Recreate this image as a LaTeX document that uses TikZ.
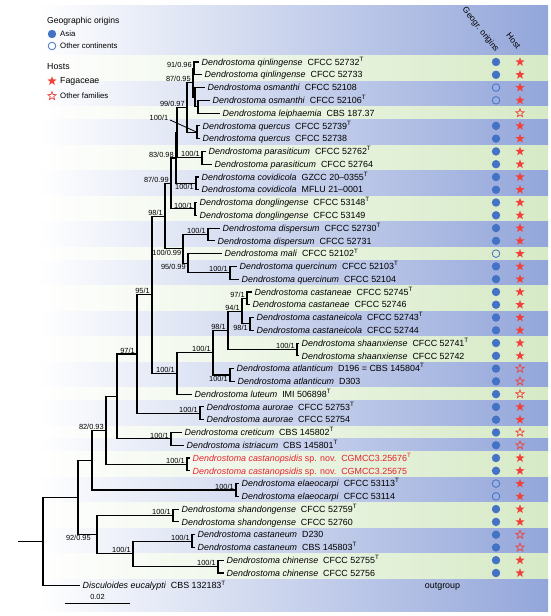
\documentclass[tikz,border=0pt]{standalone}
\usepackage{fontspec}
\setmainfont{Liberation Sans}
\usetikzlibrary{shapes.geometric}

\definecolor{BandBlue}{HTML}{93A6DA}
\definecolor{BandGreen}{HTML}{D6EAC6}
\definecolor{GeoBlue}{HTML}{4472C4}
\definecolor{HostRed}{HTML}{F0413A}
\definecolor{NovRed}{HTML}{E8202A}

\begin{document}
\begin{tikzpicture}[x=1pt, y=-1pt,
  branch/.style={line width=1.1pt},
  taxon/.style={anchor=base west, inner sep=0pt, xshift=2.5pt, yshift=-3.2pt, font=\fontsize{8.9}{10}\selectfont},
  supp/.style={anchor=south east, inner sep=0.6pt, xshift=-1.5pt, font=\fontsize{7.4}{8}\selectfont},
  suppb/.style={anchor=north east, inner sep=0.6pt, xshift=-1.5pt, font=\fontsize{7.4}{8}\selectfont},
  asia/.style={circle, fill=GeoBlue, inner sep=0pt, minimum size=8.4pt},
  othercont/.style={circle, draw=GeoBlue, line width=0.8pt, inner sep=0pt, minimum size=7.6pt},
  faga/.style={star, star points=5, star point ratio=2.4, fill=HostRed, inner sep=0pt, minimum size=9.5pt},
  otherfam/.style={star, star points=5, star point ratio=2.4, draw=HostRed, line width=0.7pt, inner sep=0pt, minimum size=8.8pt},
  legtxt/.style={anchor=west, inner sep=0pt, font=\fontsize{7.8}{9}\selectfont}]

 \useasboundingbox (0,0) rectangle (550,616);

 %%%%%%%%%% Background bands %%%%%%%%%%
 \shade [left color=white, right color=BandBlue] (38,5) rectangle (548,55.61) ;
 \foreach \ya/\yb/\col in {55.61/81.17/BandGreen, 81.17/106.72/BandBlue, 106.72/119.49/BandGreen,
   119.49/145.04/BandBlue, 145.04/170.59/BandGreen, 170.59/196.14/BandBlue, 196.14/221.69/BandGreen,
   221.69/247.24/BandBlue, 247.24/260.02/BandGreen, 260.02/285.57/BandBlue, 285.57/311.12/BandGreen,
   311.12/336.67/BandBlue, 336.67/362.22/BandGreen, 362.22/387.77/BandBlue, 387.77/400.54/BandGreen,
   400.54/426.09/BandBlue, 426.09/438.87/BandGreen, 438.87/451.64/BandBlue, 451.64/477.19/BandGreen,
   477.19/502.74/BandBlue, 502.74/528.29/BandGreen, 528.29/553.84/BandBlue, 553.84/579.39/BandGreen,
   579.39/611/BandBlue}
 {
   \shade [left color=white, right color=\col] (38,\ya) rectangle (548,\yb) ;
 }

 %%%%%%%%%% Internal nodes %%%%%%%%%%
 \coordinate (stem) at (18,541.61);
 \coordinate (root) at (43,541.61);
 \coordinate (nA) at (78,497.44);
 \coordinate (nB) at (92,460.20);
 \coordinate (n8293) at (106,430.44);
 \coordinate (nD) at (117,396.46);
 \coordinate (n971) at (137,354.04);
 \coordinate (n951) at (152,294.77);
 \coordinate (n981) at (165,216.15);
 \coordinate (n8799) at (171,183.46);
 \coordinate (n8398) at (176,158.01);
 \coordinate (nX) at (177,132.66);
 \coordinate (n9997) at (187,107.51);
 \coordinate (n8795) at (193,82.76);
 \coordinate (qin) at (194,68.39);
 \coordinate (osm) at (195,97.13);
 \coordinate (ol) at (198,106.72);
 \coordinate (quer) at (197,132.27);
 \coordinate (para) at (202,157.82);
 \coordinate (cov) at (196,183.37);
 \coordinate (dong) at (195,208.92);
 \coordinate (n10099) at (183,248.84);
 \coordinate (disp) at (208,234.47);
 \coordinate (n9599) at (188,263.21);
 \coordinate (quin) at (230,272.79);
 \coordinate (n1001b) at (177,373.39);
 \coordinate (n1001a) at (213,352.64);
 \coordinate (n981b) at (228,330.28);
 \coordinate (n941) at (242,311.12);
 \coordinate (cast) at (247,298.34);
 \coordinate (casti) at (250,323.89);
 \coordinate (shaan) at (297,349.44);
 \coordinate (atl) at (230,374.99);
 \coordinate (aur) at (200,413.32);
 \coordinate (cret) at (171,438.87);
 \coordinate (csp) at (187,464.42);
 \coordinate (ela) at (236,489.97);
 \coordinate (n9295) at (97,534.68);
 \coordinate (shan) at (173,515.52);
 \coordinate (n1001c) at (133,553.84);
 \coordinate (cstm) at (192,541.07);
 \coordinate (chin) at (218,566.62);

 %%%%%%%%%% Tips %%%%%%%%%%
 \coordinate (t1) at (199,62.00);
 \coordinate (t2) at (202,74.78);
 \coordinate (t3) at (205,87.55);
 \coordinate (t4) at (210,100.33);
 \coordinate (t5) at (220,113.10);
 \coordinate (t6) at (200,125.88);
 \coordinate (t7) at (200,138.65);
 \coordinate (t8) at (206,151.43);
 \coordinate (t9) at (212,164.20);
 \coordinate (t10) at (199,176.98);
 \coordinate (t11) at (199,189.75);
 \coordinate (t12) at (197,202.53);
 \coordinate (t13) at (197,215.30);
 \coordinate (t14) at (220,228.08);
 \coordinate (t15) at (215,240.85);
 \coordinate (t16) at (222,253.63);
 \coordinate (t17) at (237,266.40);
 \coordinate (t18) at (239,279.18);
 \coordinate (t19) at (252,291.95);
 \coordinate (t20) at (250,304.73);
 \coordinate (t21) at (254,317.50);
 \coordinate (t22) at (254,330.28);
 \coordinate (t23) at (299,343.05);
 \coordinate (t24) at (299,355.83);
 \coordinate (t25) at (234,368.60);
 \coordinate (t26) at (235,381.38);
 \coordinate (t27) at (192,394.15);
 \coordinate (t28) at (204,406.93);
 \coordinate (t29) at (204,419.70);
 \coordinate (t30) at (182,432.48);
 \coordinate (t31) at (184,445.25);
 \coordinate (t32) at (190,458.03);
 \coordinate (t33) at (190,470.80);
 \coordinate (t34) at (239,483.58);
 \coordinate (t35) at (239,496.35);
 \coordinate (t36) at (179,509.13);
 \coordinate (t37) at (179,521.90);
 \coordinate (t38) at (195,534.68);
 \coordinate (t39) at (195,547.45);
 \coordinate (t40) at (224,560.23);
 \coordinate (t41) at (224,573.00);
 \coordinate (t42) at (80,585.78);

 %%%%%%%%%% Tree %%%%%%%%%%
 \draw [branch] (stem) -- (root) ;
 \draw [branch] (root) |- (nA) ;
 \draw [branch] (root) |- (t42) ;
 \draw [branch] (nA) |- (nB) ;
 \draw [branch] (nA) |- (n9295) ;
 \draw [branch] (nB) |- (n8293) ;
 \draw [branch] (nB) |- (ela) ;
 \draw [branch] (n8293) |- (nD) ;
 \draw [branch] (n8293) |- (csp) ;
 \draw [branch] (nD) |- (n971) ;
 \draw [branch] (nD) |- (cret) ;
 \draw [branch] (n971) |- (n951) ;
 \draw [branch] (n971) |- (aur) ;
 \draw [branch] (n951) |- (n981) ;
 \draw [branch] (n951) |- (n1001b) ;

 % Upper clade
 \draw [branch] (n981) |- (n8799) ;
 \draw [branch] (n981) |- (n10099) ;
 \draw [branch] (n8799) |- (n8398) ;
 \draw [branch] (n8799) |- (dong) ;
 \draw [branch] (n8398) |- (nX) ;
 \draw [branch] (n8398) |- (cov) ;
 \draw [branch] (nX) |- (n9997) ;
 \draw [branch] (nX) |- (para) ;
 \draw [branch] (n9997) |- (n8795) ;
 \draw [branch] (n9997) |- (quer) ;
 \draw [branch] (n8795) |- (qin) ;
 \draw [branch] (n8795) |- (osm) ;
 \draw [branch] (osm) |- (t3) ;
 \draw [branch] (osm) |- (ol) ;
 \draw [branch] (n10099) |- (disp) ;
 \draw [branch] (n10099) |- (n9599) ;
 \draw [branch] (n9599) |- (t16) ;
 \draw [branch] (n9599) |- (quin) ;

 % Castaneae clade
 \draw [branch] (n1001b) |- (n1001a) ;
 \draw [branch] (n1001b) |- (t27) ;
 \draw [branch] (n1001a) |- (n981b) ;
 \draw [branch] (n1001a) |- (atl) ;
 \draw [branch] (n981b) |- (n941) ;
 \draw [branch] (n981b) |- (shaan) ;
 \draw [branch] (n941) |- (cast) ;
 \draw [branch] (n941) |- (casti) ;

 % Lower clade
 \draw [branch] (n9295) |- (shan) ;
 \draw [branch] (n9295) |- (n1001c) ;
 \draw [branch] (n1001c) |- (cstm) ;
 \draw [branch] (n1001c) |- (chin) ;

 % Species pairs
 \foreach \p/\a/\b in {qin/t1/t2, ol/t4/t5, quer/t6/t7, para/t8/t9, cov/t10/t11, dong/t12/t13,
   disp/t14/t15, quin/t17/t18, cast/t19/t20, casti/t21/t22, shaan/t23/t24, atl/t25/t26,
   aur/t28/t29, cret/t30/t31, csp/t32/t33, ela/t34/t35, shan/t36/t37, cstm/t38/t39, chin/t40/t41}
 {
   \draw [branch] (\p) |- (\a) ;
   \draw [branch] (\p) |- (\b) ;
 }

 %%%%%%%%%% Support values %%%%%%%%%%
 \node [supp] (s1) at (qin) {91/0.96} ;
 \node [supp] (s2) at (n8795) {87/0.95} ;
 \node [supp] (s3) at (n9997) {99/0.97} ;
 \node [supp, anchor=center, xshift=0pt] (s4) at (160.5,118) {100/1} ;
 \draw [line width=0.8] (s4.east) ++(1,2) coordinate (s4a) ;
 \draw [line width=0.8] (s4a) -- (quer) ;
 \node [supp] (s5) at (n8398) {83/0.98} ;
 \node [supp] (s6) at (para) {100/1} ;
 \node [supp] (s7) at (n8799) {87/0.99} ;
 \node [suppb] (s8) at (cov) {100/1} ;
 \node [supp] (s9) at (dong) {100/1} ;
 \node [supp] (s10) at (n981) {98/1} ;
 \node [supp] (s11) at (disp) {100/1} ;
 \node [suppb, xshift=0.5pt] (s12) at (n10099) {100/0.99} ;
 \node [suppb] (s13) at (n9599) {95/0.99} ;
 \node [supp] (s14) at (quin) {100/1} ;
 \node [supp] (s15) at (n951) {95/1} ;
 \node [supp] (s16) at (cast) {97/1} ;
 \node [supp] (s17) at (n941) {94/1} ;
 \node [suppb] (s18) at (casti) {98/1} ;
 \node [supp] (s19) at (n981b) {98/1} ;
 \node [supp] (s20) at (shaan) {100/1} ;
 \node [supp] (s21) at (n1001a) {100/1} ;
 \node [suppb] (s22) at (atl) {100/1} ;
 \node [supp] (s23) at (n1001b) {100/1} ;
 \node [supp] (s24) at (aur) {100/1} ;
 \node [supp] (s25) at (n971) {97/1} ;
 \node [supp] (s26) at (cret) {100/1} ;
 \node [supp] (s27) at (n8293) {82/0.93} ;
 \node [supp] (s28) at (csp) {100/1} ;
 \node [supp] (s29) at (ela) {100/1} ;
 \node [supp] (s30) at (shan) {100/1} ;
 \node [supp] (s31) at (n1001c) {100/1} ;
 \node [supp] (s32) at (cstm) {100/1} ;
 \node [supp] (s33) at (chin) {100/1} ;
 \node [suppb, xshift=-4pt] (s34) at (n9295) {92/0.95} ;

 %%%%%%%%%% Taxa %%%%%%%%%%
 \node [taxon] (x1) at (t1) {\textit{Dendrostoma qinlingense}~~CFCC 52732\textsuperscript{T}} ;
 \node [taxon] (x2) at (t2) {\textit{Dendrostoma qinlingense}~~CFCC 52733} ;
 \node [taxon] (x3) at (t3) {\textit{Dendrostoma osmanthi}~~CFCC 52108} ;
 \node [taxon] (x4) at (t4) {\textit{Dendrostoma osmanthi}~~CFCC 52106\textsuperscript{T}} ;
 \node [taxon] (x5) at (t5) {\textit{Dendrostoma leiphaemia}~~CBS 187.37} ;
 \node [taxon] (x6) at (t6) {\textit{Dendrostoma quercus}~~CFCC 52739\textsuperscript{T}} ;
 \node [taxon] (x7) at (t7) {\textit{Dendrostoma quercus}~~CFCC 52738} ;
 \node [taxon] (x8) at (t8) {\textit{Dendrostoma parasiticum}~~CFCC 52762\textsuperscript{T}} ;
 \node [taxon] (x9) at (t9) {\textit{Dendrostoma parasiticum}~~CFCC 52764} ;
 \node [taxon] (x10) at (t10) {\textit{Dendrostoma covidicola}~~GZCC 20–0355\textsuperscript{T}} ;
 \node [taxon] (x11) at (t11) {\textit{Dendrostoma covidicola}~~MFLU 21–0001} ;
 \node [taxon] (x12) at (t12) {\textit{Dendrostoma donglingense}~~CFCC 53148\textsuperscript{T}} ;
 \node [taxon] (x13) at (t13) {\textit{Dendrostoma donglingense}~~CFCC 53149} ;
 \node [taxon] (x14) at (t14) {\textit{Dendrostoma dispersum}~~CFCC 52730\textsuperscript{T}} ;
 \node [taxon] (x15) at (t15) {\textit{Dendrostoma dispersum}~~CFCC 52731} ;
 \node [taxon] (x16) at (t16) {\textit{Dendrostoma mali}~~CFCC 52102\textsuperscript{T}} ;
 \node [taxon] (x17) at (t17) {\textit{Dendrostoma quercinum}~~CFCC 52103\textsuperscript{T}} ;
 \node [taxon] (x18) at (t18) {\textit{Dendrostoma quercinum}~~CFCC 52104} ;
 \node [taxon] (x19) at (t19) {\textit{Dendrostoma castaneae}~~CFCC 52745\textsuperscript{T}} ;
 \node [taxon] (x20) at (t20) {\textit{Dendrostoma castaneae}~~CFCC 52746} ;
 \node [taxon] (x21) at (t21) {\textit{Dendrostoma castaneicola}~~CFCC 52743\textsuperscript{T}} ;
 \node [taxon] (x22) at (t22) {\textit{Dendrostoma castaneicola}~~CFCC 52744} ;
 \node [taxon] (x23) at (t23) {\textit{Dendrostoma shaanxiense}~~CFCC 52741\textsuperscript{T}} ;
 \node [taxon] (x24) at (t24) {\textit{Dendrostoma shaanxiense}~~CFCC 52742} ;
 \node [taxon] (x25) at (t25) {\textit{Dendrostoma atlanticum}~~D196 = CBS 145804\textsuperscript{T}} ;
 \node [taxon] (x26) at (t26) {\textit{Dendrostoma atlanticum}~~D303} ;
 \node [taxon] (x27) at (t27) {\textit{Dendrostoma luteum}~~IMI 506898\textsuperscript{T}} ;
 \node [taxon] (x28) at (t28) {\textit{Dendrostoma aurorae}~~CFCC 52753\textsuperscript{T}} ;
 \node [taxon] (x29) at (t29) {\textit{Dendrostoma aurorae}~~CFCC 52754} ;
 \node [taxon] (x30) at (t30) {\textit{Dendrostoma creticum}~~CBS 145802\textsuperscript{T}} ;
 \node [taxon] (x31) at (t31) {\textit{Dendrostoma istriacum}~~CBS 145801\textsuperscript{T}} ;
 \node [taxon, text=NovRed] (x32) at (t32) {\textit{Dendrostoma castanopsidis} sp. nov.~~CGMCC3.25676\textsuperscript{T}} ;
 \node [taxon, text=NovRed] (x33) at (t33) {\textit{Dendrostoma castanopsidis} sp. nov.~~CGMCC3.25675} ;
 \node [taxon] (x34) at (t34) {\textit{Dendrostoma elaeocarpi}~~CFCC 53113\textsuperscript{T}} ;
 \node [taxon] (x35) at (t35) {\textit{Dendrostoma elaeocarpi}~~CFCC 53114} ;
 \node [taxon] (x36) at (t36) {\textit{Dendrostoma shandongense}~~CFCC 52759\textsuperscript{T}} ;
 \node [taxon] (x37) at (t37) {\textit{Dendrostoma shandongense}~~CFCC 52760} ;
 \node [taxon] (x38) at (t38) {\textit{Dendrostoma castaneum}~~D230} ;
 \node [taxon] (x39) at (t39) {\textit{Dendrostoma castaneum}~~CBS 145803\textsuperscript{T}} ;
 \node [taxon] (x40) at (t40) {\textit{Dendrostoma chinense}~~CFCC 52755\textsuperscript{T}} ;
 \node [taxon] (x41) at (t41) {\textit{Dendrostoma chinense}~~CFCC 52756} ;
 \node [taxon] (x42) at (t42) {\textit{Disculoides eucalypti}~~CBS 132183\textsuperscript{T}} ;
 \node [taxon, anchor=base, xshift=0pt] (outg) at (440,585.78) {outgroup} ;

 %%%%%%%%%% Geographic origins and hosts %%%%%%%%%%
 \foreach \i in {1,2,6,7,8,9,10,11,12,13,14,15,17,18,19,20,21,22,23,24,25,26,27,28,29,30,31,32,33,36,37,38,39,40,41}
 {
   \node [asia] (g\i) at (496, {62+12.775*(\i-1)}) {} ;
 }
 \foreach \i in {3,4,16,34,35}
 {
   \node [othercont] (g\i) at (496, {62+12.775*(\i-1)}) {} ;
 }
 \foreach \i in {1,2,3,4,6,7,8,9,10,11,12,13,14,15,16,17,18,19,20,21,22,23,24,28,29,32,33,34,35,36,37,40,41}
 {
   \node [faga] (h\i) at (520, {62+12.775*(\i-1)}) {} ;
 }
 \foreach \i in {5,25,26,27,30,31,38,39}
 {
   \node [otherfam] (h\i) at (520, {62+12.775*(\i-1)}) {} ;
 }

 \node [rotate=-52, anchor=east, inner sep=0pt, font=\fontsize{8.5}{10}\selectfont] (hgeo) at (497,51) {Geogr. origins} ;
 \node [rotate=-52, anchor=east, inner sep=0pt, font=\fontsize{8.5}{10}\selectfont] (hhost) at (519,48) {Host} ;

 %%%%%%%%%% Legend %%%%%%%%%%
 \node [legtxt, font=\fontsize{8.6}{10}\selectfont] (lgeo) at (47,21) {Geographic origins} ;
 \node [asia] (lasia) at (52,34) {} ;
 \node [legtxt] (lasiat) at (60,34) {Asia} ;
 \node [othercont] (loth) at (52,46) {} ;
 \node [legtxt] (lotht) at (60,46) {Other continents} ;
 \node [legtxt, font=\fontsize{8.8}{10}\selectfont] (lhost) at (47,67) {Hosts} ;
 \node [faga] (lfag) at (52,81) {} ;
 \node [legtxt, font=\fontsize{8.8}{10}\selectfont] (lfagt) at (60,81) {Fagaceae} ;
 \node [otherfam] (lfam) at (52,96) {} ;
 \node [legtxt] (lfamt) at (60,96) {Other families} ;

 %%%%%%%%%% Scale bar %%%%%%%%%%
 \coordinate (sb1) at (65,603) ;
 \coordinate (sb2) at (130,603) ;
 \draw [line width=1] (sb1) -- (sb2) ;
 \node [font=\fontsize{7.4}{8}\selectfont, anchor=south, inner sep=1pt] (sbl) at (97.5,601) {0.02} ;

\end{tikzpicture}
\end{document}
